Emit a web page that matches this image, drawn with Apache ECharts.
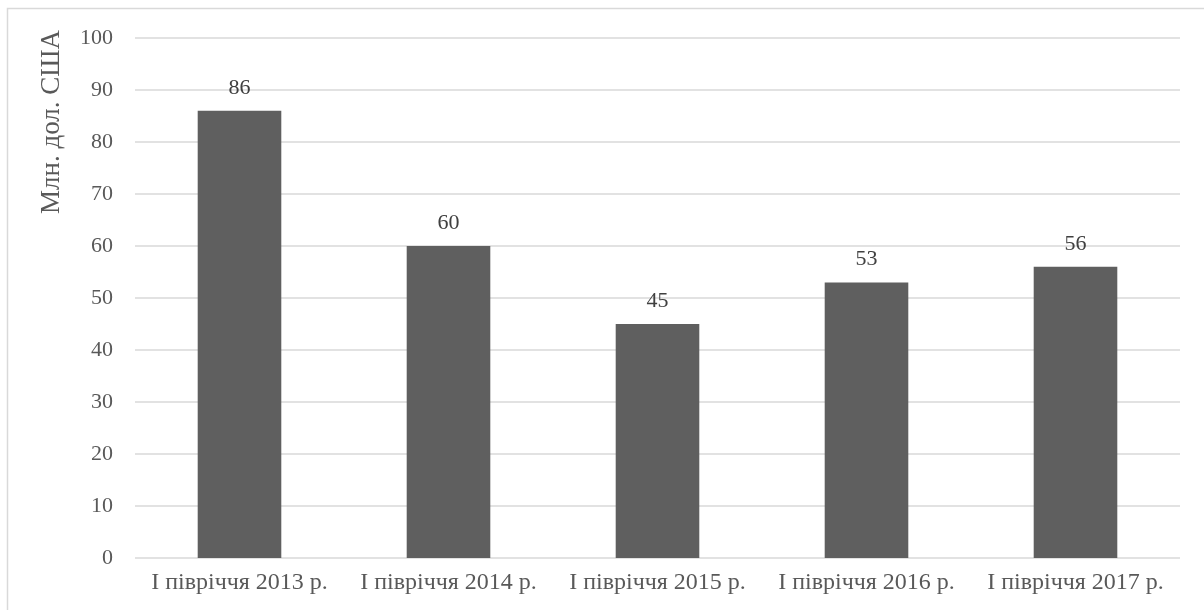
<!DOCTYPE html>
<html><head><meta charset="utf-8">
<script src="https://cdn.jsdelivr.net/npm/echarts@6/dist/echarts.min.js"></script>
<style>html,body{margin:0;padding:0;background:#fff}#c{width:1204px;height:610px}</style>
</head><body><div id="c"></div>
<script>
const categories = ['І півріччя 2013 р.', 'І півріччя 2014 р.', 'І півріччя 2015 р.', 'І півріччя 2016 р.', 'І півріччя 2017 р.'];
const values = [86, 60, 45, 53, 56];
const axisName = 'Млн. дол. США';
const FONT = '"Liberation Serif", "Times New Roman", serif';
const chart = echarts.init(document.getElementById('c'));
chart.setOption({
  animation: false,
  grid: { left: 135, right: 24, top: 38, bottom: 52, containLabel: false },
  graphic: [
    { type: 'rect', shape: { x: 7.5, y: 8.5, width: 1220, height: 640 }, style: { fill: 'none', stroke: '#d9d9d9', lineWidth: 1.5 }, silent: true },
    { type: 'text', x: 52, y: 122, rotation: Math.PI / 2, style: { text: axisName, font: '27px ' + FONT, fill: '#595959', textAlign: 'center', textVerticalAlign: 'middle' } }
  ],
  xAxis: {
    type: 'category', data: categories,
    axisLine: { show: false }, axisTick: { show: false },
    axisLabel: { interval: 0, color: '#595959', fontFamily: FONT, fontSize: 24, margin: 13 }
  },
  yAxis: {
    type: 'value', min: 0, max: 100, interval: 10,
    axisLine: { show: false }, axisTick: { show: false },
    axisLabel: { color: '#595959', fontFamily: FONT, fontSize: 22, margin: 22 },
    splitLine: { lineStyle: { color: '#d9d9d9', width: 1.5 } }
  },
  series: [{
    type: 'bar', data: values, barCategoryGap: '60%',
    itemStyle: { color: '#5f5f5f' },
    label: { show: true, position: 'top', distance: 12, color: '#404040', fontFamily: FONT, fontSize: 22 }
  }]
});
</script></body></html>
